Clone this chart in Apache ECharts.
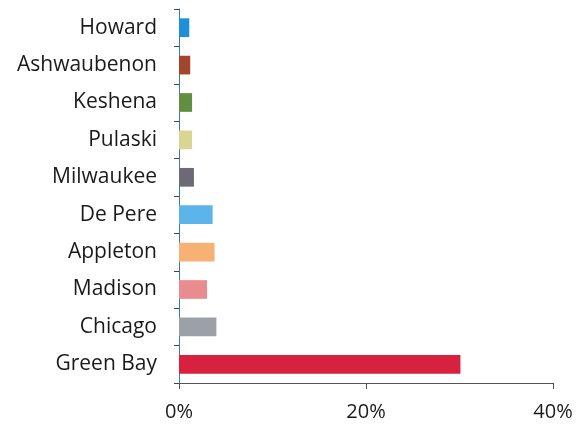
<!DOCTYPE html>
<html>
<head>
<meta charset="utf-8">
<script src="https://cdn.jsdelivr.net/npm/echarts@6/dist/echarts.min.js"></script>
<style>
  html, body { margin: 0; padding: 0; background: #fff; }
  #main { width: 582px; height: 426px; }
</style>
</head>
<body>
<div id="main"></div>
<script>
// categories, top to bottom
var cities = ['Howard', 'Ashwaubenon', 'Keshena', 'Pulaski', 'Milwaukee',
  'De Pere', 'Appleton', 'Madison', 'Chicago', 'Green Bay']
// share in percent
var shares = [1.1, 1.2, 1.4, 1.4, 1.6, 3.6, 3.8, 3.0, 4.0, 30.1]
var barColors = ['#1f8fd8', '#a2452b', '#5f8f3f', '#d9d693', '#6d6a77',
  '#5cb4ea', '#f6b274', '#e98c8f', '#9ca1a8', '#d8203f']
var xTicks = [0, 20, 40]

var chart = echarts.init(document.getElementById('main'))

var option = {
  animation: false,
  grid: {
    left: 179,
    right: 29,
    top: 9,
    bottom: 43
  },
  xAxis: {
    type: 'value',
    min: xTicks[0],
    max: xTicks[xTicks.length - 1],
    interval: xTicks[1] - xTicks[0],
    axisLine: { show: true, lineStyle: { color: '#555', width: 1 } },
    axisTick: { show: true, length: 6, lineStyle: { color: '#555' } },
    axisLabel: {
      formatter: '{value}%',
      color: '#1a1a1a',
      fontSize: 20,
      fontFamily: 'Open Sans',
      margin: 19
    },
    splitLine: { show: false }
  },
  yAxis: {
    type: 'category',
    inverse: true,
    data: cities,
    axisLine: { show: true, lineStyle: { color: '#3a78b0', width: 1 } },
    axisTick: { show: true, length: 5, lineStyle: { color: '#444' } },
    axisLabel: {
      color: '#1a1a1a',
      fontSize: 21,
      fontFamily: 'Open Sans',
      margin: 22
    }
  },
  series: [
    {
      type: 'bar',
      barCategoryGap: '50%',
      data: shares.map(function (v, i) {
        return { value: v, itemStyle: { color: barColors[i] } }
      })
    }
  ]
}

chart.setOption(option)
</script>
</body>
</html>
